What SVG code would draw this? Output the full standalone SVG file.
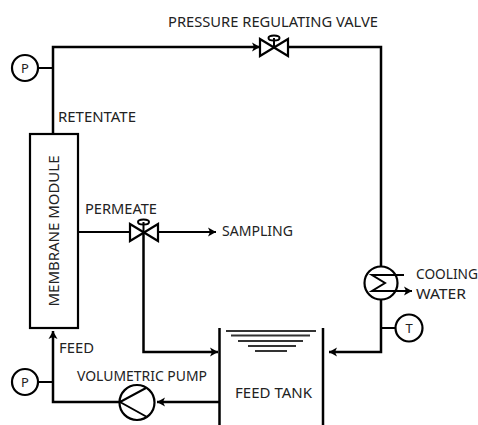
<svg xmlns="http://www.w3.org/2000/svg" width="478" height="425" viewBox="0 0 478 425">
<style>
text{font-family:"Noto Sans","DejaVu Sans",sans-serif;font-size:14px;fill:#222}
.l{fill:none;stroke:#000;stroke-width:2.5}
.m{fill:none;stroke:#000;stroke-width:2}
.s{fill:#fff;stroke:#000;stroke-width:2.2}
.w{stroke:#333;stroke-width:1.8}
.i{font-size:13px;text-anchor:middle}
</style>
<defs>
<marker id="a" markerUnits="userSpaceOnUse" markerWidth="10" markerHeight="10" refX="8" refY="5" orient="auto"><path d="M0 0.5L8 5L0 9.5L2 5Z" fill="#000"/></marker>
</defs>
<g id="connectors">
<path class="l" d="M53 134V47H260" marker-end="url(#a)"/>
<path class="l" d="M288 47H381V267"/>
<path class="l" d="M381 299V352H329" marker-end="url(#a)"/>
<path class="m" d="M38 68H53"/>
<path class="m" d="M38 382H53"/>
<path class="m" d="M381 328H396"/>
<path class="m" d="M78 232H131"/>
<path class="m" d="M156 232H216" marker-end="url(#a)"/>
<path class="l" d="M143.500 232V352H218" marker-end="url(#a)"/>
<path class="l" d="M120 402H53V331" marker-end="url(#a)"/>
<path class="l" d="M219 402H157" marker-end="url(#a)"/>
</g>
<g id="pressure-gauge-top"><circle class="s" cx="25" cy="68" r="13"/><text class="i" x="25" y="72.500">P</text></g>
<g id="pressure-gauge-bottom"><circle class="s" cx="25" cy="382" r="13"/><text class="i" x="25" y="386.500">P</text></g>
<g id="temperature-gauge"><circle class="s" cx="409" cy="328" r="13.500"/><text class="i" x="409" y="332.500">T</text></g>
<g id="membrane-module"><rect class="s" x="30" y="134" width="48" height="194"/><text transform="translate(59 231) rotate(-90)" text-anchor="middle" textLength="151" lengthAdjust="spacingAndGlyphs">MEMBRANE MODULE</text></g>
<g id="pressure-valve"><path class="s" d="M260 39V56L288 39V56Z"/><path class="m" d="M274 47V38"/><ellipse class="m" cx="274" cy="38" rx="5.500" ry="2.500"/></g>
<g id="permeate-valve"><path class="s" d="M130 224V241L158 224V241Z"/><path class="m" d="M143.500 232V222"/><ellipse class="m" cx="143.500" cy="222" rx="5.500" ry="2.500"/></g>
<g id="heat-exchanger"><circle class="s" cx="381" cy="283" r="16.500"/><path class="m" d="M404 275H372L385 283L372 291H400"/><path class="m" d="M398 291H412" marker-end="url(#a)"/></g>
<g id="pump"><circle class="s" cx="137" cy="402.500" r="17.500"/><path class="m" d="M120 402L146 388M120 402L147 417"/></g>
<g id="feed-tank">
<path class="l" d="M219.500 328V425M323 328V425"/>
<path class="w" d="M226 331H316M231 335.500H310M238 341H303M248 346H296M255 351H287"/>
<text x="235" y="398" textLength="77" lengthAdjust="spacingAndGlyphs">FEED TANK</text>
</g>
<g id="labels">
<text x="168" y="27" textLength="210" lengthAdjust="spacingAndGlyphs">PRESSURE REGULATING VALVE</text>
<text x="58" y="122" textLength="78" lengthAdjust="spacingAndGlyphs">RETENTATE</text>
<text x="85" y="214" textLength="72" lengthAdjust="spacingAndGlyphs">PERMEATE</text>
<text x="222" y="236" textLength="71" lengthAdjust="spacingAndGlyphs">SAMPLING</text>
<text x="416" y="279" textLength="62" lengthAdjust="spacingAndGlyphs">COOLING</text>
<text x="416" y="299" textLength="50" lengthAdjust="spacingAndGlyphs">WATER</text>
<text x="59" y="353" textLength="35" lengthAdjust="spacingAndGlyphs">FEED</text>
<text x="77" y="381" textLength="130" lengthAdjust="spacingAndGlyphs">VOLUMETRIC PUMP</text>
</g>
</svg>
